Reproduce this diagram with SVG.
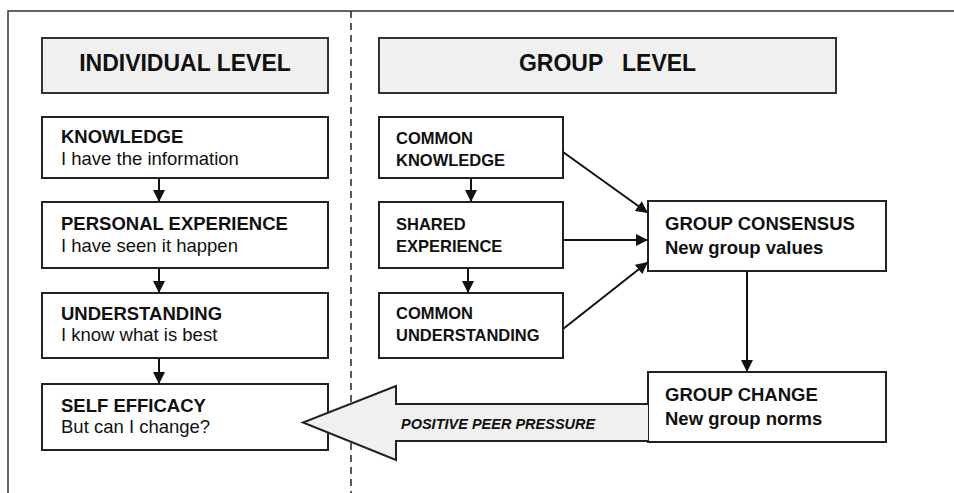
<svg xmlns="http://www.w3.org/2000/svg" width="954" height="493" viewBox="0 0 954 493">
<style>
.box{fill:#fff;stroke:#222;stroke-width:2}
.hdr{fill:#f0f0f0;stroke:#333;stroke-width:2}
.t{font-family:"Liberation Sans",Arial,sans-serif;fill:#111}
.h{font-size:23px;font-weight:bold}
.b{font-size:18.5px;font-weight:bold}
.r{font-size:18.5px}
.s{font-size:16.5px;font-weight:bold}
.c{stroke:#111;stroke-width:2;fill:none}
</style>
<defs>
<marker id="ah" viewBox="0 0 12 12" refX="12" refY="6" markerWidth="12" markerHeight="12" markerUnits="userSpaceOnUse" orient="auto">
<path d="M0,0 L12,6 L0,12 z" fill="#111"/>
</marker>
</defs>
<rect width="954" height="493" fill="#fff"/>
<g id="frame">
<path d="M8,493 V11 H954" fill="none" stroke="#333" stroke-width="1.5"/>
<line x1="351" y1="11" x2="351" y2="493" stroke="#222" stroke-width="1.5" stroke-dasharray="7,5"/>
</g>
<g id="hdr-individual">
<rect class="hdr" x="42" y="38" width="286" height="55"/>
<text class="t h" x="185" y="71" text-anchor="middle">INDIVIDUAL LEVEL</text>
</g>
<g id="hdr-group">
<rect class="hdr" x="379" y="38" width="457" height="55"/>
<text class="t h" x="607.5" y="71" text-anchor="middle" xml:space="preserve">GROUP   LEVEL</text>
</g>
<g id="knowledge">
<rect class="box" x="42" y="117" width="286" height="61"/>
<text class="t b" x="61" y="143">KNOWLEDGE</text>
<text class="t r" x="61" y="165">I have the information</text>
</g>
<g id="personal-experience">
<rect class="box" x="42" y="202" width="286" height="66"/>
<text class="t b" x="61" y="230">PERSONAL EXPERIENCE</text>
<text class="t r" x="61" y="252">I have seen it happen</text>
</g>
<g id="understanding">
<rect class="box" x="42" y="293" width="286" height="65"/>
<text class="t b" x="61" y="320">UNDERSTANDING</text>
<text class="t r" x="61" y="341">I know what is best</text>
</g>
<g id="self-efficacy">
<rect class="box" x="42" y="384" width="286" height="66"/>
<text class="t b" x="61" y="412">SELF EFFICACY</text>
<text class="t r" x="61" y="433">But can I change?</text>
</g>
<g id="common-knowledge">
<rect class="box" x="379" y="117" width="184" height="61"/>
<text class="t s" x="396" y="144">COMMON</text>
<text class="t s" x="396" y="166">KNOWLEDGE</text>
</g>
<g id="shared-experience">
<rect class="box" x="379" y="202" width="184" height="66"/>
<text class="t s" x="396" y="230">SHARED</text>
<text class="t s" x="396" y="252">EXPERIENCE</text>
</g>
<g id="common-understanding">
<rect class="box" x="379" y="293" width="184" height="65"/>
<text class="t s" x="396" y="319">COMMON</text>
<text class="t s" x="396" y="341">UNDERSTANDING</text>
</g>
<g id="group-consensus">
<rect class="box" x="648" y="201" width="238" height="70"/>
<text class="t b" x="665" y="230">GROUP CONSENSUS</text>
<text class="t b" x="665" y="254">New group values</text>
</g>
<g id="group-change">
<rect class="box" x="648" y="372" width="238" height="70"/>
<text class="t b" x="665" y="401">GROUP CHANGE</text>
<text class="t b" x="665" y="425">New group norms</text>
</g>
<g id="connectors">
<line class="c" x1="159" y1="178" x2="159" y2="202" marker-end="url(#ah)"/>
<line class="c" x1="159" y1="268" x2="159" y2="293" marker-end="url(#ah)"/>
<line class="c" x1="159" y1="358" x2="159" y2="384" marker-end="url(#ah)"/>
<line class="c" x1="471" y1="178" x2="471" y2="202" marker-end="url(#ah)"/>
<line class="c" x1="468" y1="268" x2="468" y2="293" marker-end="url(#ah)"/>
<line class="c" x1="563" y1="152" x2="648" y2="213" marker-end="url(#ah)"/>
<line class="c" x1="563" y1="240" x2="648" y2="240" marker-end="url(#ah)"/>
<line class="c" x1="563" y1="329" x2="648" y2="262" marker-end="url(#ah)"/>
<line class="c" x1="747" y1="271" x2="747" y2="372" marker-end="url(#ah)"/>
</g>
<g id="peer-pressure">
<path d="M648,404 H396 V386 L303,422.5 L396,460 V441 H648" fill="#f0f0f0" stroke="#222" stroke-width="2"/>
<text class="t" x="401" y="429" font-size="14.5" font-weight="bold" font-style="italic">POSITIVE PEER PRESSURE</text>
</g>
</svg>
